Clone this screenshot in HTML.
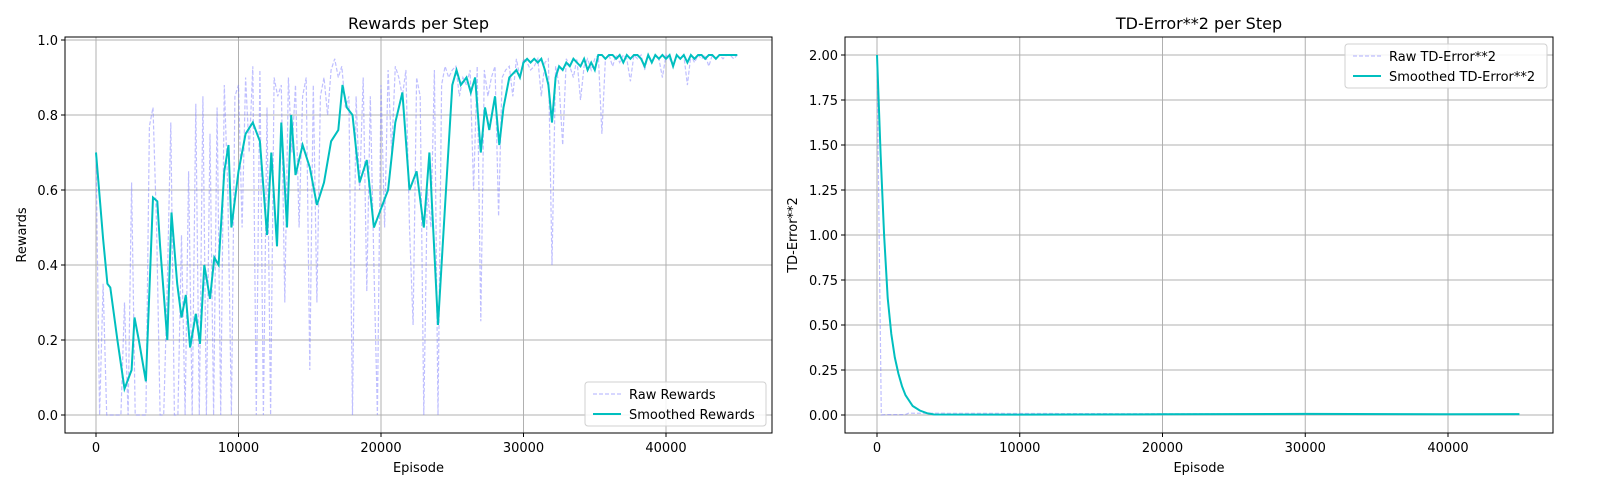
<!DOCTYPE html>
<html><head><meta charset="utf-8"><style>
body{margin:0;background:#fff;overflow:hidden;}
svg{display:block;font-family:"DejaVu Sans","Liberation Sans",sans-serif;}
</style></head><body>
<svg id="chart" width="1600" height="500" xmlns="http://www.w3.org/2000/svg"></svg>
<script>
// ---- data ----
const smoothEp=[0,500,800,1000,1500,2000,2500,2700,3000,3500,4000,4300,4500,5000,5300,5700,6000,6300,6600,7000,7300,7600,8000,8300,8600,9000,9300,9500,10000,10500,11000,11500,12000,12300,12700,13000,13400,13700,14000,14500,15000,15500,16000,16500,17000,17300,17600,18000,18500,19000,19500,20000,20500,21000,21500,22000,22500,23000,23400,24000,24500,25000,25300,25600,26000,26300,26600,27000,27300,27600,28000,28300,28600,
29000,29250,29500,29750,30000,30250,30500,30750,31000,31250,31500,31750,32000,32250,32500,32750,33000,33250,33500,33750,34000,34250,34500,34750,35000,35250,35500,35750,36000,36250,36500,36750,37000,37250,37500,37750,38000,38250,38500,38750,39000,39250,39500,39750,40000,40250,40500,40750,41000,41250,41500,41750,42000,42250,42500,42750,43000,43250,43500,43750,44000,44250,44500,44750,45000];
const smoothVal=[0.70,0.47,0.35,0.34,0.20,0.07,0.12,0.26,0.20,0.09,0.58,0.57,0.45,0.20,0.54,0.35,0.26,0.32,0.18,0.27,0.19,0.40,0.31,0.42,0.40,0.65,0.72,0.50,0.65,0.75,0.78,0.73,0.48,0.70,0.45,0.78,0.50,0.80,0.64,0.72,0.66,0.56,0.62,0.73,0.76,0.88,0.82,0.80,0.62,0.68,0.50,0.55,0.60,0.78,0.86,0.60,0.65,0.50,0.70,0.24,0.56,0.88,0.92,0.88,0.90,0.86,0.90,0.70,0.82,0.76,0.85,0.72,0.82,
0.90,0.91,0.92,0.90,0.94,0.95,0.94,0.95,0.94,0.95,0.92,0.88,0.78,0.90,0.93,0.92,0.94,0.93,0.95,0.94,0.93,0.95,0.92,0.94,0.92,0.96,0.96,0.95,0.96,0.96,0.95,0.96,0.94,0.96,0.95,0.96,0.96,0.95,0.93,0.96,0.94,0.96,0.95,0.96,0.95,0.96,0.93,0.96,0.95,0.96,0.94,0.96,0.95,0.96,0.96,0.95,0.96,0.96,0.95,0.96,0.96,0.96,0.96,0.96,0.96];
const rawStep=250;
const rawRewards=[0.70,0.0,0.35,0.0,0.0,0.0,0.0,0.0,0.3,0.0,0.62,0.0,0.0,0.0,0.0,0.77,0.82,0.5,0.0,0.0,
0.35,0.78,0.0,0.0,0.48,0.0,0.65,0.0,0.83,0.0,0.85,0.0,0.75,0.0,0.82,0.0,0.88,0.6,0.0,0.85,
0.88,0.5,0.9,0.7,0.93,0.0,0.92,0.0,0.82,0.0,0.9,0.85,0.88,0.3,0.9,0.7,0.88,0.5,0.85,0.9,
0.12,0.88,0.3,0.85,0.9,0.8,0.92,0.95,0.9,0.93,0.82,0.85,0.0,0.85,0.6,0.9,0.33,0.85,0.4,0.0,
0.88,0.5,0.92,0.7,0.93,0.9,0.85,0.92,0.5,0.24,0.9,0.85,0.0,0.6,0.5,0.92,0.0,0.88,0.93,0.9,
0.92,0.93,0.85,0.9,0.88,0.92,0.6,0.93,0.25,0.92,0.85,0.9,0.93,0.53,0.9,0.92,0.93,0.85,0.95,0.9,
0.95,0.94,0.92,0.93,0.95,0.85,0.94,0.95,0.4,0.93,0.88,0.72,0.95,0.93,0.9,0.95,0.84,0.93,0.95,0.92,
0.95,0.96,0.75,0.95,0.96,0.93,0.96,0.94,0.96,0.95,0.89,0.96,0.95,0.96,0.92,0.96,0.94,0.96,0.95,0.9,
0.96,0.95,0.93,0.96,0.95,0.96,0.88,0.96,0.94,0.96,0.95,0.96,0.93,0.96,0.95,0.96,0.95,0.96,0.96,0.95,0.96];
const tdRawEp=[0,300,600,2000,2200,45000];
const tdRawVal=[2.0,0.0,0.002,0.002,0.01,0.002];
const tdSmoothEp=[0,250,500,750,1000,1250,1500,1750,2000,2500,3000,3500,4000,10000,20000,30000,40000,45000];
const tdSmoothVal=[2.0,1.45,1.0,0.65,0.45,0.32,0.23,0.16,0.11,0.05,0.025,0.01,0.003,0.002,0.004,0.006,0.004,0.005];
const xTicks=[0,10000,20000,30000,40000];
const yTicksL=[0,0.2,0.4,0.6,0.8,1.0];
const yTickLabelsL=["0.0","0.2","0.4","0.6","0.8","1.0"];
const yTicksR=[0,0.25,0.5,0.75,1.0,1.25,1.5,1.75,2.0];
const yTickLabelsR=["0.00","0.25","0.50","0.75","1.00","1.25","1.50","1.75","2.00"];

const NS="http://www.w3.org/2000/svg";
const svg=document.getElementById('chart');
function mk(tag,attrs,parent,text){const e=document.createElementNS(NS,tag);for(const k in attrs)e.setAttribute(k,attrs[k]);if(text!==undefined)e.textContent=text;(parent||svg).appendChild(e);return e;}

function panel(o){
  const g=mk('g',{});
  
  
  const xs=v=>o.x0+(v-o.dx0)/(o.dx1-o.dx0)*(o.x1-o.x0);
  const ys=v=>o.y0+(v-o.dy0)/(o.dy1-o.dy0)*(o.y1-o.y0);
  xTicks.forEach(t=>{const x=xs(t);
    const l=mk('line',{x1:x,x2:x,y1:o.top,y2:o.bot,stroke:'#b0b0b0','stroke-width':1},g);
    
    mk('line',{x1:x,x2:x,y1:o.bot,y2:o.bot+4,stroke:'#000'},g);
    const tx=mk('text',{x:x,y:o.bot+19,'font-size':13,'text-anchor':'middle'},g,String(t));
    });
  o.yt.forEach((t,i)=>{const y=ys(t);
    const l=mk('line',{x1:o.left,x2:o.right,y1:y,y2:y,stroke:'#b0b0b0','stroke-width':1},g);
    
    mk('line',{x1:o.left-4,x2:o.left,y1:y,y2:y,stroke:'#000'},g);
    const tx=mk('text',{x:o.left-7,y:y+5,'font-size':13,'text-anchor':'end'},g,o.yl[i]);
    });
  const path=(ep,val)=>ep.map((e,i)=>(i?'L':'M')+xs(e).toFixed(1)+','+ys(val[i]).toFixed(1)).join('');
  const r=mk('path',{d:path(o.rawEp,o.rawVal),fill:'none',stroke:'#8080ff','stroke-opacity':0.5,'stroke-width':1.2,'stroke-dasharray':'4,2'},g);
  
  const s=mk('path',{d:path(o.smEp,o.smVal),fill:'none',stroke:'#00bfbf','stroke-width':2},g);
  
  const f=mk('rect',{x:o.left,y:o.top,width:o.right-o.left,height:o.bot-o.top,fill:'none',stroke:'#000','stroke-width':1},g);
  
  const ti=mk('text',{x:(o.left+o.right)/2,y:29,'font-size':16,'text-anchor':'middle'},g,o.title);
  
  const xl=mk('text',{x:(o.left+o.right)/2,y:472,'font-size':13,'text-anchor':'middle'},g,'Episode');
  
  const yl=mk('text',{x:0,y:0,'font-size':13,'text-anchor':'middle',transform:`translate(${o.ylx},${(o.top+o.bot)/2}) rotate(-90)`},g,o.ylabel);
  
  const L=o.leg;
  const lg=mk('g',{},g);
  
  mk('rect',{x:L.x,y:L.y,width:L.w,height:44,rx:3,fill:'#fff','fill-opacity':0.85,stroke:'#d0d0d0'},lg);
  mk('line',{x1:L.x+8,x2:L.x+36,y1:L.y+12,y2:L.y+12,stroke:'#8080ff','stroke-opacity':0.5,'stroke-width':1.2,'stroke-dasharray':'4,2'},lg);
  const t1=mk('text',{x:L.x+44,y:L.y+17,'font-size':13},lg,o.legNames[0]);
  
  mk('line',{x1:L.x+8,x2:L.x+36,y1:L.y+32,y2:L.y+32,stroke:'#00bfbf','stroke-width':2},lg);
  const t2=mk('text',{x:L.x+44,y:L.y+37,'font-size':13},lg,o.legNames[1]);
  
}
const rawEp=rawRewards.map((v,i)=>i*rawStep);
panel({name:'rewards-panel',left:65,right:772,top:37,bot:433,x0:96,x1:666,dx0:0,dx1:40000,y0:415,y1:40,dy0:0,dy1:1,
  yt:yTicksL,yl:yTickLabelsL,rawEp:rawEp,rawVal:rawRewards,smEp:smoothEp,smVal:smoothVal,
  title:'Rewards per Step',ylabel:'Rewards',ylx:26,leg:{x:585,y:382,w:181},legNames:['Raw Rewards','Smoothed Rewards']});
panel({name:'td-error-panel',left:845,right:1553,top:37,bot:433,x0:877,x1:1448,dx0:0,dx1:40000,y0:415,y1:55,dy0:0,dy1:2,
  yt:yTicksR,yl:yTickLabelsR,rawEp:tdRawEp,rawVal:tdRawVal,smEp:tdSmoothEp,smVal:tdSmoothVal,
  title:'TD-Error**2 per Step',ylabel:'TD-Error**2',ylx:797,leg:{x:1345,y:44,w:202},legNames:['Raw TD-Error**2','Smoothed TD-Error**2']});
</script>
</body></html>
